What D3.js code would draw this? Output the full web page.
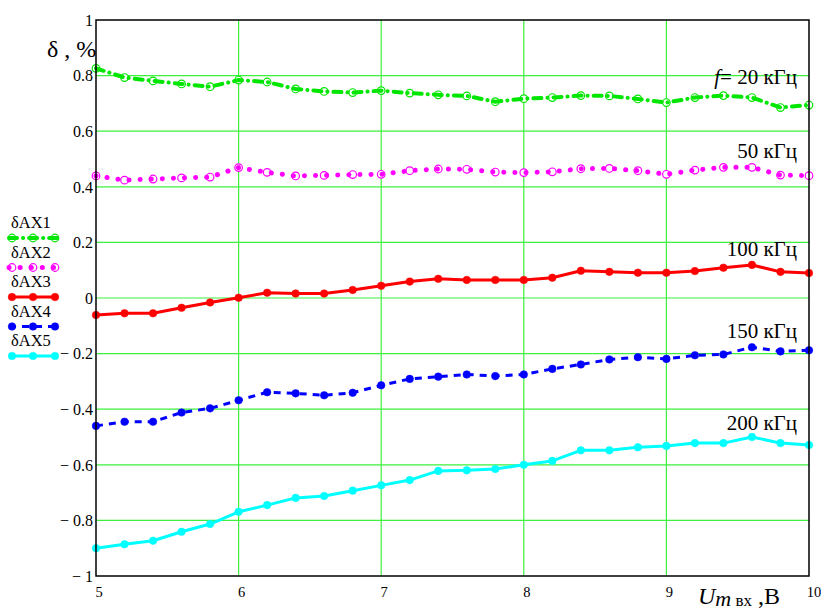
<!DOCTYPE html>
<html><head><meta charset="utf-8">
<script src="https://cdn.jsdelivr.net/npm/d3@7"></script>
<style>body{margin:0;background:#fff}svg{display:block}</style>
</head><body>
<script>
const xValues = [5,5.2,5.4,5.6,5.8,6,6.2,6.4,6.6,6.8,7,7.2,7.4,7.6,7.8,8,8.2,8.4,8.6,8.8,9,9.2,9.4,9.6,9.8,10];
const dAX1 = [0.826,0.793,0.781,0.770,0.760,0.784,0.777,0.752,0.743,0.739,0.746,0.737,0.731,0.727,0.706,0.717,0.721,0.728,0.727,0.716,0.703,0.721,0.728,0.721,0.685,0.694];
const dAX2 = [0.439,0.424,0.428,0.432,0.435,0.469,0.452,0.439,0.441,0.444,0.445,0.458,0.464,0.463,0.453,0.451,0.454,0.465,0.466,0.458,0.445,0.460,0.470,0.470,0.442,0.440];
const dAX3 = [-0.061,-0.055,-0.055,-0.035,-0.016,0.001,0.019,0.016,0.016,0.029,0.044,0.059,0.069,0.065,0.065,0.065,0.073,0.098,0.094,0.091,0.091,0.097,0.109,0.119,0.094,0.090];
const dAX4 = [-0.460,-0.445,-0.445,-0.412,-0.397,-0.368,-0.339,-0.343,-0.350,-0.341,-0.314,-0.291,-0.283,-0.275,-0.281,-0.275,-0.255,-0.239,-0.221,-0.213,-0.219,-0.206,-0.203,-0.177,-0.192,-0.188];
const dAX5 = [-0.900,-0.886,-0.873,-0.841,-0.813,-0.769,-0.745,-0.719,-0.712,-0.693,-0.674,-0.655,-0.622,-0.620,-0.615,-0.600,-0.586,-0.548,-0.548,-0.537,-0.532,-0.522,-0.522,-0.500,-0.522,-0.529];
const seriesNames = ["δAX1","δAX2","δAX3","δAX4","δAX5"];
const curveLabels = ["20 кГц","50 кГц","100 кГц","150 кГц","200 кГц"];
const labelValues = [0.770,0.504,0.151,-0.144,-0.475];
const xTicks = [5,6,7,8,9,10];
const yTicks = [-1,-0.8,-0.6,-0.4,-0.2,0,0.2,0.4,0.6,0.8,1];

const FONT = '"Liberation Serif", "Times New Roman", serif';
const W = 823, H = 613;
const svg = d3.select("body").append("svg").attr("width",W).attr("height",H);
const L = 96, R = 809, T = 20, B = 576;
const x = d3.scaleLinear().domain([5,10]).range([L,R]);
const y = d3.scaleLinear().domain([-1,1]).range([B,T]);
const txt = (sel) => sel.append("text").style("font-family",FONT).attr("fill","#000");

const styles = [
  {color:"#00e600", width:4, dash:"8,6,0.1,6", cap:"round", marker:"open"},
  {color:"#ff00ff", width:5, dash:"0.1,11", cap:"round", marker:"open"},
  {color:"#ff0000", width:3, dash:null, cap:"butt", marker:"fill"},
  {color:"#0000ff", width:3, dash:"7,6", cap:"butt", marker:"fill"},
  {color:"#00ffff", width:3, dash:null, cap:"butt", marker:"fill"}
];
const allSeries = [dAX1,dAX2,dAX3,dAX4,dAX5];

// grid
const grid = svg.append("g");
grid.selectAll("line.gx").data(xTicks.slice(1,-1)).join("line")
  .attr("x1",d=>x(d)).attr("x2",d=>x(d)).attr("y1",T).attr("y2",B)
  .attr("stroke","#3df03d").attr("stroke-width",1.2);
grid.selectAll("line.gy").data(yTicks.slice(1,-1)).join("line")
  .attr("x1",L).attr("x2",R).attr("y1",d=>y(d)).attr("y2",d=>y(d))
  .attr("stroke","#3df03d").attr("stroke-width",1.2);

function drawMarkers(g, pts, st){
  g.selectAll(null).data(pts).join("circle")
    .attr("cx",d=>d[0]).attr("cy",d=>d[1])
    .attr("r", 3.8)
    .attr("fill", st.marker==="open"?"#fff":st.color)
    .attr("stroke",st.color).attr("stroke-width",st.marker==="open"?1.2:0.5);
}

// series
const line = d3.line().x((d,i)=>x(xValues[i])).y(d=>y(d)).curve(d3.curveLinear);
allSeries.forEach((s,k)=>{
  const st = styles[k];
  const g = svg.append("g");
  const pts = s.map((d,i)=>[x(xValues[i]), y(d)]);
  if(st.marker==="open") drawMarkers(g, pts, st);
  g.append("path").attr("d",line(s)).attr("fill","none").attr("stroke",st.color)
    .attr("stroke-width",st.width).attr("stroke-dasharray",st.dash).attr("stroke-linecap",st.cap)
    .attr("stroke-linejoin","round");
  if(st.marker!=="open") drawMarkers(g, pts, st);
});

// frame
svg.append("rect").attr("x",L).attr("y",T).attr("width",R-L).attr("height",B-T)
  .attr("fill","none").attr("stroke","#000").attr("stroke-width",1.5);

// y tick labels
const fmt = d => { const a = Math.abs(d); const s = (Math.round(a*10)/10).toString(); return d<0 ? "− "+s : s; };
yTicks.forEach(d=>{
  txt(svg).attr("x",93).attr("y",y(d)).attr("dy","0.36em").attr("text-anchor","end")
    .attr("font-size",16).text(fmt(d));
});
// x tick labels
xTicks.forEach(d=>{
  txt(svg).attr("x",d===10?x(d)+5:x(d)+3).attr("y",597).attr("text-anchor","middle")
    .attr("font-size",14.5).text(d);
});

// axis titles
txt(svg).attr("x",47).attr("y",57).attr("font-size",24).text("δ , %");
const xt = txt(svg).attr("x",698).attr("y",604).attr("font-size",24);
xt.append("tspan").attr("font-style","italic").text("U");
xt.append("tspan").attr("font-style","italic").attr("font-size",22).attr("dy",2).text("m");
xt.append("tspan").attr("font-size",17).text(" вх");
xt.append("tspan").attr("dy",-2).text(" ,В");

// curve labels
curveLabels.forEach((t,k)=>{
  const tx = txt(svg).attr("x",797).attr("y",y(labelValues[k])).attr("text-anchor","end").attr("font-size",21);
  if(k===0){
    tx.append("tspan").attr("font-style","italic").text("f");
    tx.append("tspan").text("= "+t);
  } else tx.text(t);
});

// legend
const lg = svg.append("g");
seriesNames.forEach((n,k)=>{
  const st = styles[k];
  const ty = 228 + k*29.5;
  const ly = ty + 10;
  txt(lg).attr("x",11).attr("y",ty).attr("font-size",16.5).text(n);
  const pts = [[12,ly],[33,ly],[55,ly]];
  if(st.marker==="open") drawMarkers(lg, pts, st);
  lg.append("line").attr("x1",9).attr("x2",57).attr("y1",ly).attr("y2",ly)
    .attr("stroke",st.color).attr("stroke-width",st.width).attr("stroke-dasharray",st.dash).attr("stroke-linecap",st.cap);
  if(st.marker!=="open") drawMarkers(lg, pts, st);
});
</script>
</body></html>
